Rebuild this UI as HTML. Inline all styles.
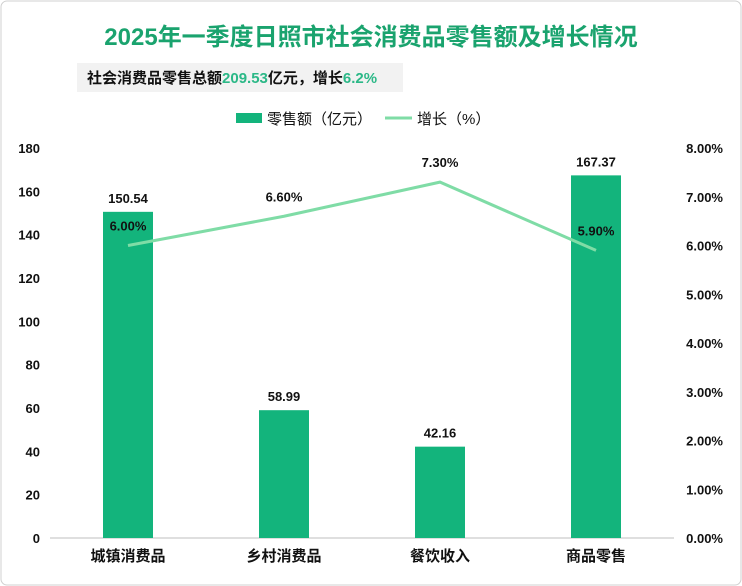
<!DOCTYPE html>
<html><head><meta charset="utf-8"><style>
body{margin:0;background:#fff;font-family:"Liberation Sans","Noto Sans CJK SC",sans-serif}
#c{position:relative;width:742px;height:586px;overflow:hidden}
</style></head><body>
<div id="c">
<svg id="s" width="742" height="586" xmlns="http://www.w3.org/2000/svg">
<rect x="1" y="1" width="740" height="584" rx="6" fill="#fff" stroke="#d0d0d0"/>
<text x="371" y="45" text-anchor="middle" font-size="24" font-weight="bold" fill="#1aa36e" font-family="Liberation Sans,Noto Sans CJK SC,sans-serif">2025年一季度日照市社会消费品零售额及增长情况</text>
<rect x="77" y="63" width="326" height="29" fill="#f2f2f2"/>
<text x="87" y="83" font-size="15" font-weight="bold" fill="#111" font-family="Liberation Sans,Noto Sans CJK SC,sans-serif">社会消费品零售总额<tspan fill="#2bb887">209.53</tspan>亿元，增长<tspan fill="#2bb887">6.2%</tspan></text>
<rect x="236" y="113" width="26" height="10" fill="#13b47c"/>
<text x="267" y="124" font-size="15" fill="#111" font-family="Liberation Sans,Noto Sans CJK SC,sans-serif">零售额（亿元）</text>
<line x1="385" y1="118" x2="412" y2="118" stroke="#7fdca6" stroke-width="3"/>
<text x="417" y="124" font-size="15" fill="#111" font-family="Liberation Sans,Noto Sans CJK SC,sans-serif">增长（%）</text>
<line x1="50" y1="538" x2="674" y2="538" stroke="#bfbfbf"/>
<g id="g"></g>
</svg>
</div>
<script>
const categories=["城镇消费品","乡村消费品","餐饮收入","商品零售"];
const sales=[150.54,58.99,42.16,167.37];
const growth=[6.00,6.60,7.30,5.90];
const leftTicks=[0,20,40,60,80,100,120,140,160,180];
const rightTicks=[0,1,2,3,4,5,6,7,8];
const NS="http://www.w3.org/2000/svg";
const g=document.getElementById('g');
const y0=538,yTop=148,x0=50,x1=674;
const yL=v=>y0-(v/180)*(y0-yTop);
const yR=v=>y0-(v/8)*(y0-yTop);
const band=(x1-x0)/categories.length;
const xc=i=>x0+band*(i+0.5)-0;
function el(t,a,txt){const e=document.createElementNS(NS,t);for(const k in a)e.setAttribute(k,a[k]);if(txt!==undefined)e.textContent=txt;g.appendChild(e);return e;}
const F="Liberation Sans,Noto Sans CJK SC,sans-serif";
leftTicks.forEach(v=>{const e=el('text',{x:40,y:yL(v)+5,'text-anchor':'end','font-size':13,'font-weight':'bold',fill:'#111','font-family':F},String(v));

});
rightTicks.forEach(v=>{const e=el('text',{x:723,y:yR(v)+5,'text-anchor':'end','font-size':13,'font-weight':'bold',fill:'#111','font-family':F},v.toFixed(2)+'%');

});
categories.forEach((c,i)=>{
const x=xc(i)-50*0+0;
const b=el('rect',{x:x-25,y:yL(sales[i]),width:50,height:y0-yL(sales[i]),fill:'#13b47c'});


const l=el('text',{x:x,y:yL(sales[i])-9,'text-anchor':'middle','font-size':13,'font-weight':'bold',fill:'#111','font-family':F},sales[i].toFixed(2));


const t=el('text',{x:x,y:561,'text-anchor':'middle','font-size':15,'font-weight':'bold',fill:'#111','font-family':F},c);


});
const pts=growth.map((v,i)=>xc(i)+','+yR(v)).join(' ');
const pl=el('polyline',{points:pts,fill:'none',stroke:'#7fdca6','stroke-width':3});


growth.forEach((v,i)=>{const e=el('text',{x:xc(i),y:yR(v)-15,'text-anchor':'middle','font-size':13,'font-weight':'bold',fill:'#111','font-family':F},v.toFixed(2)+'%');

});
</script>
</body></html>
